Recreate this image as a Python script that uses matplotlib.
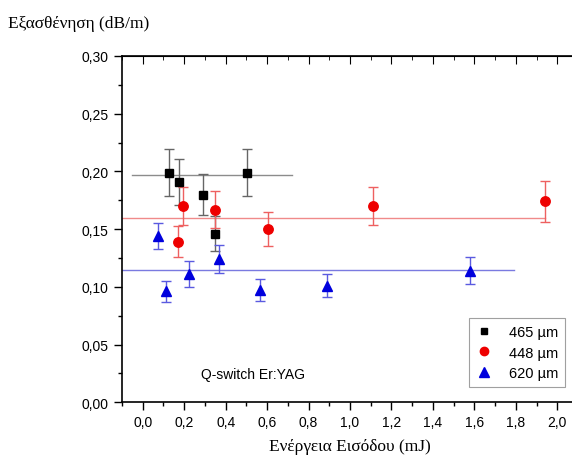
import matplotlib
matplotlib.use("Agg")
import matplotlib.pyplot as plt
from matplotlib.lines import Line2D
from matplotlib.ticker import MultipleLocator, FuncFormatter

# 465 um
x465 = [0.125, 0.176, 0.293, 0.349, 0.501]
y465 = [0.199, 0.191, 0.180, 0.146, 0.199]
e465 = [0.020, 0.020, 0.018, 0.015, 0.020]
fit465 = 0.197
span465 = [-0.05, 0.72]

# 448 um
x448 = [0.170, 0.192, 0.351, 0.606, 1.113, 1.941]
y448 = [0.139, 0.170, 0.167, 0.150, 0.170, 0.174]
e448 = [0.0135, 0.0165, 0.016, 0.015, 0.0165, 0.0175]
fit448 = 0.160
span448 = [-0.1, 1.94]

# 620 um
x620 = [0.073, 0.113, 0.222, 0.370, 0.564, 0.890, 1.580]
y620 = [0.144, 0.096, 0.111, 0.124, 0.097, 0.101, 0.114]
e620 = [0.011, 0.0095, 0.011, 0.012, 0.0095, 0.010, 0.0115]
fit620 = 0.1145
span620 = [-0.1, 1.79]

labels = ['465 µm', '448 µm', '620 µm']

plt.rcParams['font.family'] = ['Liberation Sans', 'DejaVu Sans']

fig = plt.figure(figsize=(5.72, 4.56), dpi=100)
ax = fig.add_axes([0.2133, 0.1156, 0.7972, 0.7594])

ax.plot(span465, [fit465, fit465], color='#8c8c8c', lw=1.0)
ax.plot(span448, [fit448, fit448], color='#f08a8a', lw=1.0)
ax.plot(span620, [fit620, fit620], color='#7a7ae0', lw=1.0)

ax.errorbar(x465, y465, yerr=e465, fmt='s', color='black', ms=6,
            ecolor='#666666', elinewidth=1.0, capsize=3.5, capthick=1.0)
ax.errorbar(x448, y448, yerr=e448, fmt='o', color='#ee0000', ms=6.8,
            ecolor='#ee6060', elinewidth=1.0, capsize=3.5, capthick=1.0)
ax.errorbar(x620, y620, yerr=e620, fmt='^', color='#0000dd', ms=7.2,
            ecolor='#5a5ae0', elinewidth=1.0, capsize=3.5, capthick=1.0)

ax.set_xlim(-0.1, 2.1)
ax.set_ylim(0, 0.30)
ax.xaxis.set_major_locator(MultipleLocator(0.2))
ax.xaxis.set_minor_locator(MultipleLocator(0.1))
ax.yaxis.set_major_locator(MultipleLocator(0.05))
ax.yaxis.set_minor_locator(MultipleLocator(0.025))
ax.xaxis.set_major_formatter(FuncFormatter(lambda v, p: f"{v:.1f}".replace('.', ',')))
ax.yaxis.set_major_formatter(FuncFormatter(lambda v, p: f"{v:.2f}".replace('.', ',')))

ax.tick_params(which='both', direction='out', top=False, right=False, labelsize=10, width=1.0)
ax.tick_params(which='major', length=6)
ax.tick_params(which='minor', length=3)
sec = ax.secondary_xaxis('top')
sec.set_xticks([i * 0.2 for i in range(11)])
sec.xaxis.set_minor_locator(MultipleLocator(0.1))
sec.tick_params(which='both', direction='in', labeltop=False)
sec.tick_params(which='major', length=6)
sec.tick_params(which='minor', length=3)
for s in ax.spines.values():
    s.set_linewidth(1.2)

serif = ['Liberation Serif', 'DejaVu Serif']
ax.set_xlabel('Ενέργεια Εισόδου (mJ)', family=serif, fontsize=12.5, labelpad=6)
fig.text(0.014, 0.948, 'Εξασθένηση (dB/m)', family=serif, fontsize=12.5, va='center')

ax.text(0.53, 0.0245, 'Q-switch Er:YAG', fontsize=10, ha='center', va='center')

handles = [
    Line2D([], [], ls='none', marker='s', color='black', ms=5),
    Line2D([], [], ls='none', marker='o', color='#ee0000', ms=6),
    Line2D([], [], ls='none', marker='^', color='#0000dd', ms=6.5),
]
leg = ax.legend(handles, labels, loc='lower right', bbox_to_anchor=(0.972, 0.043),
                fontsize=10.5, frameon=True, fancybox=False, edgecolor='#888888',
                handlelength=1.0, handletextpad=1.2, borderpad=0.5,
                labelspacing=0.45, borderaxespad=0.0)
leg.get_frame().set_linewidth(0.8)

fig.savefig('out.png', dpi=100)
